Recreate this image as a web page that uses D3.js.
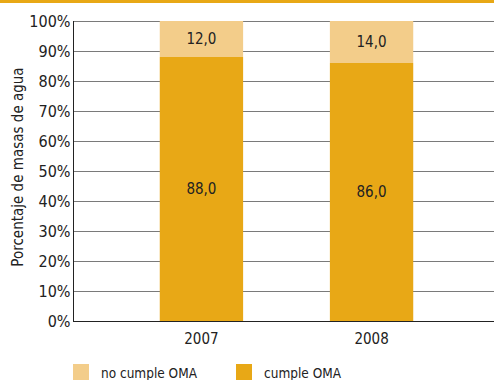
<!DOCTYPE html>
<html lang="es">
<head>
<meta charset="UTF-8">
<title>Masas de agua OMA</title>
<style>
    body{ margin:0; background:#fff; }
    text{ font-family:"DejaVu Sans Condensed","Liberation Sans Narrow",sans-serif; fill:#222; }
    .grid line{ stroke:#7a7a7a; stroke-width:1; shape-rendering:crispEdges; }
    .axis path, .axis line{ stroke:#222; shape-rendering:crispEdges; }
</style>
</head>
<body>
<svg width="494" height="380"></svg>
<script src="https://cdnjs.cloudflare.com/ajax/libs/d3/7.8.5/d3.min.js"></script>
<script>
    var years = ["2007", "2008"];
    var cumple = [88.0, 86.0];
    var noCumple = [12.0, 14.0];
    var yTicks = [0, 10, 20, 30, 40, 50, 60, 70, 80, 90, 100];
    var seriesNames = ["no cumple OMA", "cumple OMA"];
    var colors = {"cumple OMA": "#e8a816", "no cumple OMA": "#f3cd8a"};

    var svg = d3.select("svg");
    var mLeft = 73, mTop = 21, mBottom = 321;

    // top band
    svg.append("rect").attr("x", 0).attr("y", 0).attr("width", 494).attr("height", 3).attr("fill", "#e8a816");

    var x = d3.scaleBand().domain(years).range([mLeft, 500]).paddingInner(0.51).paddingOuter(0.51);
    var y = d3.scaleLinear().domain([0, 100]).range([mBottom, mTop]);

    // gridlines
    svg.append("g").attr("class", "grid")
        .selectAll("line").data(yTicks.slice(1)).enter().append("line")
        .attr("x1", mLeft).attr("x2", 494)
        .attr("y1", function(d){ return y(d) + 0.5; })
        .attr("y2", function(d){ return y(d) + 0.5; });

    var data = years.map(function(yr, i){
        return {year: yr, cumple: cumple[i], noCumple: noCumple[i]};
    });

    var bar = svg.selectAll(".bar").data(data).enter().append("g")
        .attr("transform", function(d){ return "translate(" + x(d.year) + ",0)"; });
    bar.append("rect")
        .attr("y", function(d){ return y(d.cumple); })
        .attr("height", function(d){ return y(0) - y(d.cumple); })
        .attr("width", x.bandwidth())
        .attr("fill", colors["cumple OMA"]);
    bar.append("rect")
        .attr("y", function(d){ return y(d.cumple + d.noCumple); })
        .attr("height", function(d){ return y(d.cumple) - y(d.cumple + d.noCumple); })
        .attr("width", x.bandwidth())
        .attr("fill", colors["no cumple OMA"]);

    var fmt = function(v){ return v.toFixed(1).replace(".", ","); };
    bar.append("text")
        .attr("x", x.bandwidth() / 2)
        .attr("y", function(d){ return (y(0) + y(d.cumple)) / 2; })
        .attr("dy", "0.35em").attr("text-anchor", "middle").style("font-size", "15px")
        .text(function(d){ return fmt(d.cumple); });
    bar.append("text")
        .attr("x", x.bandwidth() / 2)
        .attr("y", function(d){ return (y(d.cumple) + y(d.cumple + d.noCumple)) / 2; })
        .attr("dy", "0.35em").attr("text-anchor", "middle").style("font-size", "15px")
        .text(function(d){ return fmt(d.noCumple); });

    // y axis
    var yAxis = svg.append("g").attr("class", "axis")
        .attr("transform", "translate(" + (mLeft + 0.5) + ",0)")
        .call(d3.axisLeft(y).tickValues(yTicks).tickSize(0).tickPadding(3)
            .tickFormat(function(d){ return d + "%"; }));
    yAxis.select(".domain").attr("d", "M0," + mTop + "V" + (mBottom + 0.5));
    yAxis.selectAll("text").style("font-size", "16px").attr("fill", "#222");

    // baseline
    svg.append("line").attr("x1", mLeft).attr("x2", 494)
        .attr("y1", mBottom + 0.5).attr("y2", mBottom + 0.5)
        .attr("stroke", "#222").style("shape-rendering", "crispEdges");

    // x axis labels
    svg.selectAll(".xlab").data(years).enter().append("text")
        .attr("x", function(d){ return x(d) + x.bandwidth() / 2; })
        .attr("y", 344).attr("text-anchor", "middle").style("font-size", "15px")
        .text(function(d){ return d; });

    // y title
    svg.append("text")
        .attr("transform", "translate(23," + ((mTop + mBottom) / 2 - 4) + ") rotate(-90)")
        .attr("text-anchor", "middle").style("font-size", "15px")
        .text("Porcentaje de masas de agua");

    // legend
    var legX = [73, 236];
    var leg = svg.selectAll(".leg").data(seriesNames).enter().append("g")
        .attr("transform", function(d, i){ return "translate(" + legX[i] + ",364)"; });
    leg.append("rect").attr("width", 16).attr("height", 16)
        .attr("fill", function(d){ return colors[d]; });
    leg.append("text").attr("x", 28).attr("y", 14).style("font-size", "13.5px")
        .text(function(d){ return d; });
</script>
</body>
</html>
